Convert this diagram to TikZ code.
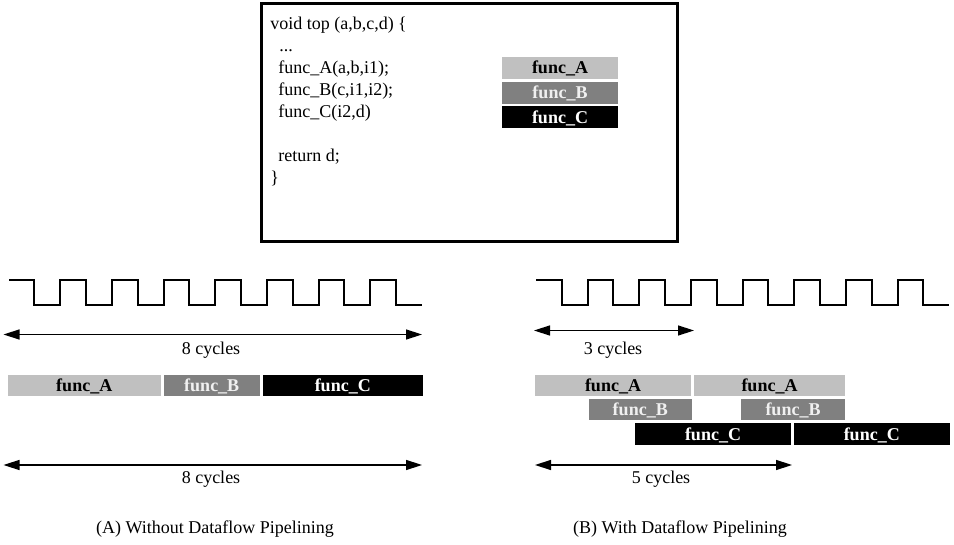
\documentclass[tikz,border=0pt]{standalone}
\usepackage{fontspec}
\setmainfont{Liberation Serif}
\usetikzlibrary{arrows.meta}
\definecolor{lightA}{HTML}{C0C0C0}
\definecolor{midB}{HTML}{808080}
\newcommand\fbarnode[7]{%
  \node[#6, minimum width={(#4-#2)*0.75pt}, minimum height={(#5-#3)*0.75pt}] (#1) at ({(#2+#4)/2},{(#3+#5)/2}) {func\_#7};}
\begin{document}
\begin{tikzpicture}[x=0.75pt,y=-0.75pt,
  font=\fontsize{13.5}{16}\selectfont,
  codeline/.style={anchor=base west, inner sep=0pt},
  fbox/.style={inner sep=0pt, text height=8.9pt, text depth=0pt, font=\fontsize{13.5}{16}\selectfont\bfseries},
  fa/.style={fbox, fill=lightA, text=black},
  fb/.style={fbox, fill=midB, text=white!94!black},
  fc/.style={fbox, fill=black, text=white},
  spanarrow/.style={{Triangle[length=12pt,width=7.5pt]}-{Triangle[length=12pt,width=7.5pt]}, line width=1.1pt},
  clk/.style={line width=1.5pt, line join=miter},
  lbl/.style={inner sep=0pt, anchor=base}]
\useasboundingbox (0,0) rectangle (954,545);

% code box
\node[draw, line width=2.25pt, minimum width={416*0.75pt}, minimum height={237.5*0.75pt}, inner sep=0pt] (codebox) at (469,122.5) {};
\node[codeline] (l1) at (270,29.5) {void top (a,b,c,d) \{};
\node[codeline] (l2) at (279,51.5) {...};
\node[codeline] (l3) at (278,73.5) {func\_A(a,b,i1);};
\node[codeline] (l4) at (278,95.5) {func\_B(c,i1,i2);};
\node[codeline] (l5) at (278,117.5) {func\_C(i2,d)};
\node[codeline] (l6) at (278,161.5) {return d;};
\node[codeline] (l7) at (270,183.5) {\}};

\fbarnode{ca}{502}{57}{618}{79}{fa}{A}
\fbarnode{cb}{502}{82}{618}{104}{fb}{B}
\fbarnode{cc}{502}{106.5}{618}{128}{fc}{C}

% clocks
\foreach \ox/\start/\stop in {0/9/422, 527.4/536.4/948.5}{
  \draw[clk] (\start,280)
    \foreach \k in {0,...,6}{ -- ({\ox+34.3+51.67*\k},280) -- ({\ox+34.3+51.67*\k},305) -- ({\ox+60.2+51.67*\k},305) -- ({\ox+60.2+51.67*\k},280) }
    -- ({\ox+34.3+51.67*7},280) -- ({\ox+34.3+51.67*7},305) -- (\stop,305);
}

% (A) without pipelining
\coordinate (a1l) at (3.5,334.5);
\coordinate (a1r) at (422,334.5);
\draw[spanarrow] (a1l) -- (a1r);
\node[lbl] (a1t) at (211,355) {8 cycles};

\fbarnode{la}{8}{375}{160.5}{396.5}{fa}{A}
\fbarnode{lb}{164}{375}{259.5}{396.5}{fb}{B}
\fbarnode{lc}{262.5}{375}{423}{396.5}{fc}{C}

\coordinate (a2l) at (3.5,465);
\coordinate (a2r) at (422,465);
\draw[spanarrow] (a2l) -- (a2r);
\node[lbl] (a2t) at (211,483.5) {8 cycles};
\node[lbl] (capa) at (215,533.5) {(A) Without Dataflow Pipelining};

% (B) with pipelining
\coordinate (b1l) at (534,330.5);
\coordinate (b1r) at (694,330.5);
\draw[spanarrow] (b1l) -- (b1r);
\node[lbl] (b1t) at (613,354.5) {3 cycles};

\fbarnode{ra1}{535}{375}{691}{396.5}{fa}{A}
\fbarnode{ra2}{694}{375}{845}{396.5}{fa}{A}
\fbarnode{rb1}{588.5}{399}{692}{420.5}{fb}{B}
\fbarnode{rb2}{741}{399}{845}{420.5}{fb}{B}
\fbarnode{rc1}{635}{423.5}{791}{445}{fc}{C}
\fbarnode{rc2}{794}{423.5}{949.5}{445}{fc}{C}

\coordinate (b2l) at (535,465);
\coordinate (b2r) at (792,465);
\draw[spanarrow] (b2l) -- (b2r);
\node[lbl] (b2t) at (661,483.5) {5 cycles};
\node[lbl] (capb) at (680,533.5) {(B) With Dataflow Pipelining};
\end{tikzpicture}
\end{document}
